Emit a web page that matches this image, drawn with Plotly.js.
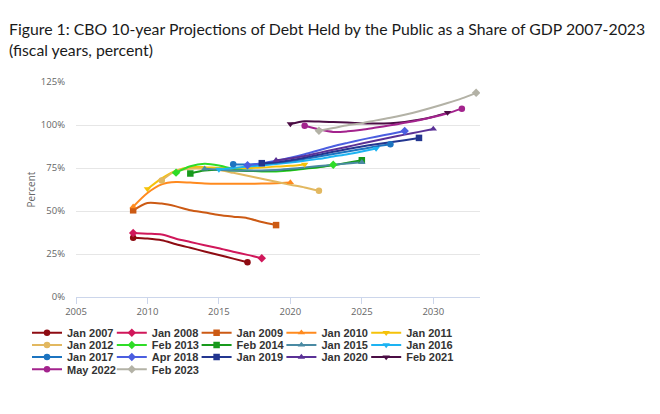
<!DOCTYPE html>
<html>
<head>
<meta charset="utf-8">
<script src="https://cdn.plot.ly/plotly-3.0.1.min.js"></script>
<style>html,body{margin:0;padding:0;background:#fff;}#chart{width:660px;height:414px;}</style>
</head>
<body>
<div id="chart"></div>
<script>
// ---- data ----
const seriesNames = ["Jan 2007","Jan 2008","Jan 2009","Jan 2010","Jan 2011",
  "Jan 2012","Feb 2013","Feb 2014","Jan 2015","Jan 2016",
  "Jan 2017","Apr 2018","Jan 2019","Jan 2020","Feb 2021",
  "May 2022","Feb 2023"];
const startYears = [2009,2009,2009,2009,2010,2011,2012,2013,2014,2015,2016,2017,2018,2019,2020,2021,2022];

const jan2007 = [34.5,34.0,33.0,30.7,28.6,26.5,24.4,22.3,20.2];
const jan2008 = [37.2,36.8,36.3,33.9,32.0,30.1,28.3,26.3,24.5,22.5];
const jan2009 = [50.4,54.7,54.3,52.7,50.4,49.1,47.7,46.7,45.8,43.6,41.8];
const jan2010 = [52.5,60.5,65.5,66.8,66.5,66.0,65.8,65.8,65.8,66.0,66.2,66.6];
const jan2011 = [62.8,69.0,73.5,75.5,75.5,75.0,75.0,75.0,75.3,75.8,76.3,77.1];
const jan2012 = [67.8,73.3,74.6,74.6,73.8,72.2,70.5,68.8,67.0,65.3,63.7,61.8];
const feb2013 = [72.3,76.0,77.5,76.5,74.5,73.5,73.0,73.0,73.5,74.5,75.5,76.9];
const feb2014 = [71.8,73.5,74.0,73.5,73.3,73.3,73.5,74.0,74.8,75.6,76.6,78.0,79.5];
const jan2015 = [74.5,74.0,73.6,73.5,73.5,73.8,74.5,75.3,76.1,76.9,77.6,78.3];
const jan2016 = [74.2,75.0,75.8,76.5,77.3,78.2,79.2,80.3,81.7,83.0,84.6,86.3];
const jan2017 = [77.2,77.0,77.3,78.0,79.0,80.3,81.7,83.2,84.6,86.0,87.5,88.8];
const apr2018 = [76.6,77.8,79.2,81.0,83.0,85.3,87.6,89.6,91.5,93.2,94.8,96.5];
const jan2019 = [77.8,78.3,79.5,81.0,82.7,84.4,86.0,87.5,88.8,90.0,91.2,92.5];
const jan2020 = [79.5,80.5,82.0,83.8,85.6,87.4,89.2,91.0,92.7,94.4,96.0,97.7];
const feb2021 = [100.6,102.2,102.0,101.8,101.4,101.0,100.8,101.0,101.8,103.0,104.8,107.2];
const may2022 = [99.6,97.5,96.0,96.3,97.2,98.5,99.8,101.3,102.8,104.6,106.8,109.5];
const feb2023 = [96.7,98.2,99.8,101.0,102.7,104.2,106.0,108.0,110.3,112.8,115.5,118.7];

const seriesValues = [jan2007,jan2008,jan2009,jan2010,jan2011,jan2012,feb2013,feb2014,
  jan2015,jan2016,jan2017,apr2018,jan2019,jan2020,feb2021,may2022,feb2023];

const xTickVals = [2005,2010,2015,2020,2025,2030];
const yTickVals = [0,25,50,75,100,125];

// ---- styles ----
const colors = ["#8e0b12","#d0175a","#cc5a14","#ff8a1e","#f5c20a",
  "#e2b860","#2fdc27","#189a1c","#4a8aa3","#1db3f2",
  "#1c74c0","#4b5ee0","#233690","#5a3196","#4b0d44",
  "#a3238d","#b3b2a6"];
const symbols = ["circle","diamond","square","triangle-up","triangle-down"];
const nCols = 5;
// legend grid (pixels of the 660x414 page)
const M = {l:76, r:180, t:82, b:117};
const plotW = 660 - M.l - M.r, plotH = 414 - M.t - M.b;
const legendTextX0 = 67, legendColStep = 84.8;
const legendRowY0 = 332.7, legendRowStep = 12.2;

const traces = [];
const markerTraces = [];
const legendLayouts = {};
seriesValues.forEach((vals,i)=>{
  const xs = vals.map((_,k)=>startYears[i]+k);
  traces.push({
    x: xs, y: vals, type:'scatter', mode:'lines',
    line:{color:colors[i], width:2, shape:'spline', smoothing:0.8},
    showlegend:false, hoverinfo:'skip'
  });
  const n = vals.length-1;
  const lid = i === 0 ? 'legend' : 'legend' + (i+1);
  markerTraces.push({
    x:[xs[0], xs[0], xs[n]], y:[vals[0], null, vals[n]],
    type:'scatter', mode:'lines+markers', name: seriesNames[i],
    connectgaps:false,
    line:{color:colors[i], width:2},
    marker:{symbol:symbols[i%5], size:6.5, color:colors[i]},
    legend: lid,
    showlegend:true
  });
  const col = i % nCols, row = Math.floor(i / nCols);
  const leftPx = legendTextX0 + col*legendColStep - 40;
  const centerPx = legendRowY0 + row*legendRowStep;
  legendLayouts[lid] = {
    orientation:'h', xanchor:'left', yanchor:'middle',
    x:(leftPx - M.l)/plotW, y:(414 - M.b - centerPx)/plotH,
    bgcolor:'rgba(0,0,0,0)', borderwidth:0,
    font:{family:'"Liberation Sans", Arial, sans-serif', size:11, color:'#333333', weight:'bold'},
    itemclick:false, itemdoubleclick:false
  };
});

const layout = Object.assign({
  width:660, height:414,
  margin:{l:M.l, r:M.r, t:M.t, b:M.b, autoexpand:false},
  paper_bgcolor:'#ffffff', plot_bgcolor:'#ffffff',
  title:{
    text:'Figure 1: CBO 10-year Projections of Debt Held by the Public as a Share of GDP 2007-2023<br>(fiscal years, percent)',
    x:9/660, xref:'container', xanchor:'left',
    y:1-35/414, yref:'container', yanchor:'top',
    font:{family:'Lato, "Open Sans", sans-serif', size:15.8, color:'#1a1a1a'}
  },
  xaxis:{
    range:[2005,2033.27], tickvals:xTickVals, ticktext:xTickVals.map(String),
    showgrid:false, zeroline:false, showline:true, linecolor:'#ccd6eb', linewidth:1,
    ticks:'outside', ticklen:6, tickcolor:'#ccd6eb',
    tickfont:{family:'"Open Sans", sans-serif', size:9.5, color:'#666666'}
  },
  yaxis:{
    range:[0,125], tickvals:yTickVals, ticktext:yTickVals.map(v=>v+'%'),
    showgrid:true, gridcolor:'#e6e6e6', gridwidth:1, zeroline:false, showline:false,
    ticks:'', ticklabelstandoff:10,
    tickfont:{family:'"Open Sans", sans-serif', size:9.5, color:'#666666'},
    title:{text:'Percent', standoff:3, font:{family:'"Open Sans", sans-serif', size:10, color:'#666666'}}
  },
  showlegend:true,
  hovermode:false
}, legendLayouts);

Plotly.newPlot('chart', traces.concat(markerTraces), layout, {staticPlot:true, displayModeBar:false});
</script>
</body>
</html>
